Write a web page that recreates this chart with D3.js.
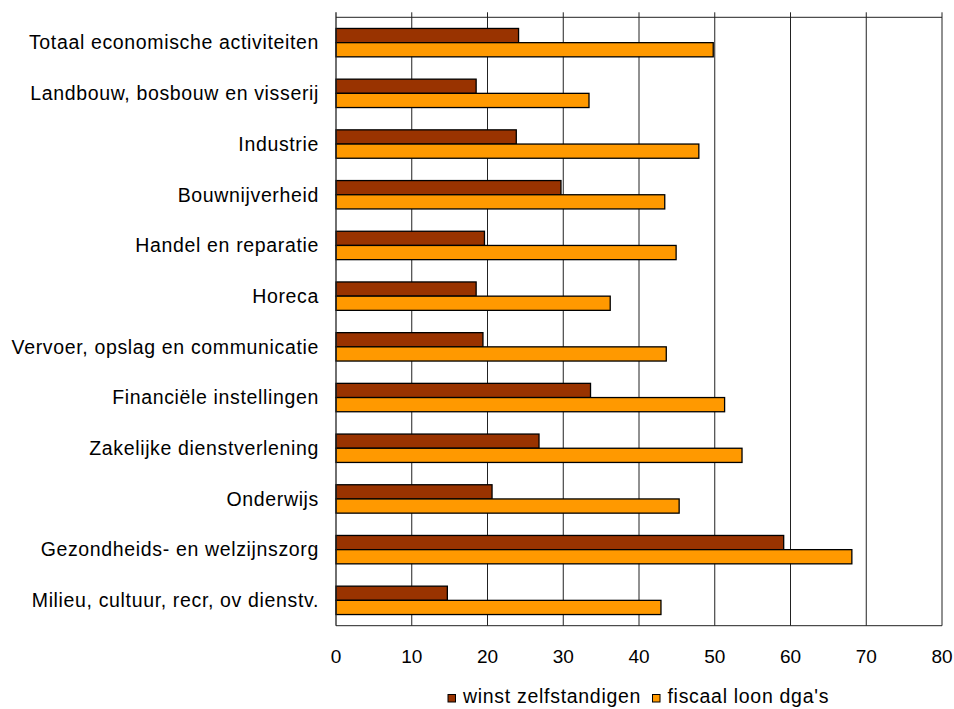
<!DOCTYPE html>
<html>
<head>
<meta charset="utf-8">
<script src="https://cdn.jsdelivr.net/npm/d3@7"></script>
<style>
  html, body { margin: 0; padding: 0; background: #fff; }
  svg { display: block; }
  text { font-family: "Liberation Sans", Arial, sans-serif; fill: #000; }
</style>
</head>
<body>
<svg id="chart" width="954" height="709"></svg>
<script>
// Sectors, top to bottom
const categories = [
  "Totaal economische activiteiten",
  "Landbouw, bosbouw en visserij",
  "Industrie",
  "Bouwnijverheid",
  "Handel en reparatie",
  "Horeca",
  "Vervoer, opslag en communicatie",
  "Financiële instellingen",
  "Zakelijke dienstverlening",
  "Onderwijs",
  "Gezondheids- en welzijnszorg",
  "Milieu, cultuur, recr, ov dienstv."
];

// Series values
const winstZelfstandigen = [24.1, 18.5, 23.8, 29.7, 19.6, 18.5, 19.4, 33.6, 26.8, 20.6, 59.1, 14.7];
const fiscaalLoonDga     = [49.8, 33.4, 47.9, 43.4, 44.9, 36.2, 43.6, 51.3, 53.6, 45.3, 68.1, 42.9];

const seriesNames = ["winst zelfstandigen", "fiscaal loon dga's"];
const seriesColors = ["#993300", "#FF9900"];
const xTicks = [0, 10, 20, 30, 40, 50, 60, 70, 80];

const svg = d3.select("#chart");
const plot = { left: 336, right: 942, top: 17.3, bottom: 625.7 };

const x = d3.scaleLinear().domain([0, 80]).range([plot.left, plot.right]);
const y = d3.scaleBand().domain(categories).range([plot.top, plot.bottom])
  .paddingInner(0.44).paddingOuter(0.22);
const ySub = d3.scaleBand().domain(seriesNames).range([0, y.bandwidth()]);

const rows = categories.map((c, i) => ({
  cat: c,
  values: [
    { name: seriesNames[0], value: winstZelfstandigen[i] },
    { name: seriesNames[1], value: fiscaalLoonDga[i] }
  ]
}));

// Vertical gridlines, extending a little above the plot as tick marks
svg.append("g")
  .selectAll("line")
  .data(xTicks.slice(1))
  .join("line")
  .attr("x1", d => x(d)).attr("x2", d => x(d))
  .attr("y1", plot.top - 5).attr("y2", plot.bottom)
  .attr("stroke", "#222").attr("stroke-width", 1);

// Plot frame: top and bottom
svg.append("line")
  .attr("x1", plot.left).attr("x2", plot.right)
  .attr("y1", plot.top).attr("y2", plot.top)
  .attr("stroke", "#222").attr("stroke-width", 1);
svg.append("line")
  .attr("x1", plot.left).attr("x2", plot.right)
  .attr("y1", plot.bottom).attr("y2", plot.bottom)
  .attr("stroke", "#222").attr("stroke-width", 1);

// Bars
const groups = svg.append("g")
  .selectAll("g")
  .data(rows)
  .join("g")
  .attr("transform", d => `translate(0,${y(d.cat)})`);

groups.selectAll("rect")
  .data(d => d.values)
  .join("rect")
  .attr("x", x(0))
  .attr("y", d => ySub(d.name))
  .attr("width", d => x(d.value) - x(0))
  .attr("height", ySub.bandwidth())
  .attr("fill", (d, i) => seriesColors[i])
  .attr("stroke", "#000")
  .attr("stroke-width", 1.3);

// Category axis (left)
svg.append("line")
  .attr("x1", plot.left).attr("x2", plot.left)
  .attr("y1", plot.top - 5).attr("y2", plot.bottom)
  .attr("stroke", "#222").attr("stroke-width", 1.3);

svg.append("g")
  .selectAll("text")
  .data(categories)
  .join("text")
  .attr("x", plot.left - 17)
  .attr("y", d => y(d) + y.bandwidth() / 2 + 6.8)
  .attr("text-anchor", "end")
  .style("font-size", "19.5px")
  .style("letter-spacing", "0.65px")
  .text(d => d);

// Value axis labels (bottom)
svg.append("g")
  .selectAll("text")
  .data(xTicks)
  .join("text")
  .attr("x", d => x(d))
  .attr("y", 662.8)
  .attr("text-anchor", "middle")
  .style("font-size", "19px")
  .text(d => d);

// Legend
const legendItems = [
  { name: seriesNames[0], color: seriesColors[0], x: 448 },
  { name: seriesNames[1], color: seriesColors[1], x: 652.5 }
];
const legend = svg.append("g").selectAll("g").data(legendItems).join("g")
  .attr("transform", d => `translate(${d.x},694.5)`);
legend.append("rect")
  .attr("width", 7.5).attr("height", 7.5)
  .attr("fill", d => d.color)
  .attr("stroke", "#000").attr("stroke-width", 1);
legend.append("text")
  .attr("x", 15).attr("y", 8.8)
  .style("font-size", "19.5px")
  .style("letter-spacing", "0.7px")
  .text(d => d.name);
</script>
</body>
</html>
